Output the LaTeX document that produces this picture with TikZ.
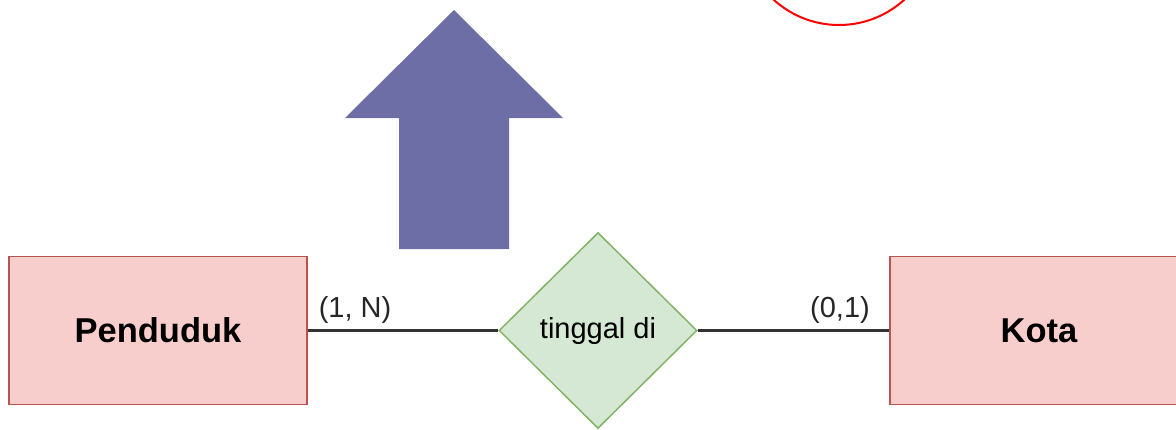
\documentclass[tikz,border=0pt]{standalone}
\usepackage{fontspec}
\setmainfont{Liberation Sans}
\usetikzlibrary{shapes.geometric}
\definecolor{entfill}{HTML}{F8CECC}
\definecolor{entline}{HTML}{B85450}
\definecolor{relfill}{HTML}{D5E8D4}
\definecolor{relline}{HTML}{82B366}
\definecolor{arrowfill}{HTML}{6E6EA6}
\definecolor{conn}{HTML}{333333}
\tikzset{
  entity/.style={rectangle, draw=entline, fill=entfill, line width=1.5pt,
    minimum width=298pt, minimum height=148pt, inner sep=0pt,
    font=\fontsize{34.5}{40}\selectfont\bfseries},
  relation/.style={diamond, draw=relline, fill=relfill, line width=1.5pt,
    minimum width=198pt, minimum height=196pt, inner sep=0pt,
    font=\fontsize{29}{35}\selectfont},
  card/.style={inner sep=0pt, font=\fontsize{29}{35}\selectfont, text=black!85},
  connector/.style={draw=conn, line width=2.2pt},
}
\begin{document}
\begin{tikzpicture}[x=1pt,y=-1pt]
\useasboundingbox (0,0) rectangle (1176,429);
% red circle (partly visible)
\node[circle, draw=red, line width=2pt, minimum size=194pt, inner sep=0pt] (circ) at (839,-72) {};
% big up arrow
\fill[arrowfill] (454,10) -- (563,118) -- (509,118) -- (509,249) -- (399,249) -- (399,118) -- (345,118) -- cycle;
% entities and relation
\node[entity] (pen) at (158,330.5) {Penduduk};
\node[entity] (kota) at (1039,330.5) {Kota};
\node[relation] (rel) at (598,330.5) {tinggal di};
% connectors
\draw[connector] (pen.east) -- (rel.west);
\draw[connector] (rel.east) -- (kota.west);
% cardinalities
\node[card] (c1) at (355,310) {(1, N)};
\node[card] (c2) at (840,310) {(0,1)};
\end{tikzpicture}
\end{document}
